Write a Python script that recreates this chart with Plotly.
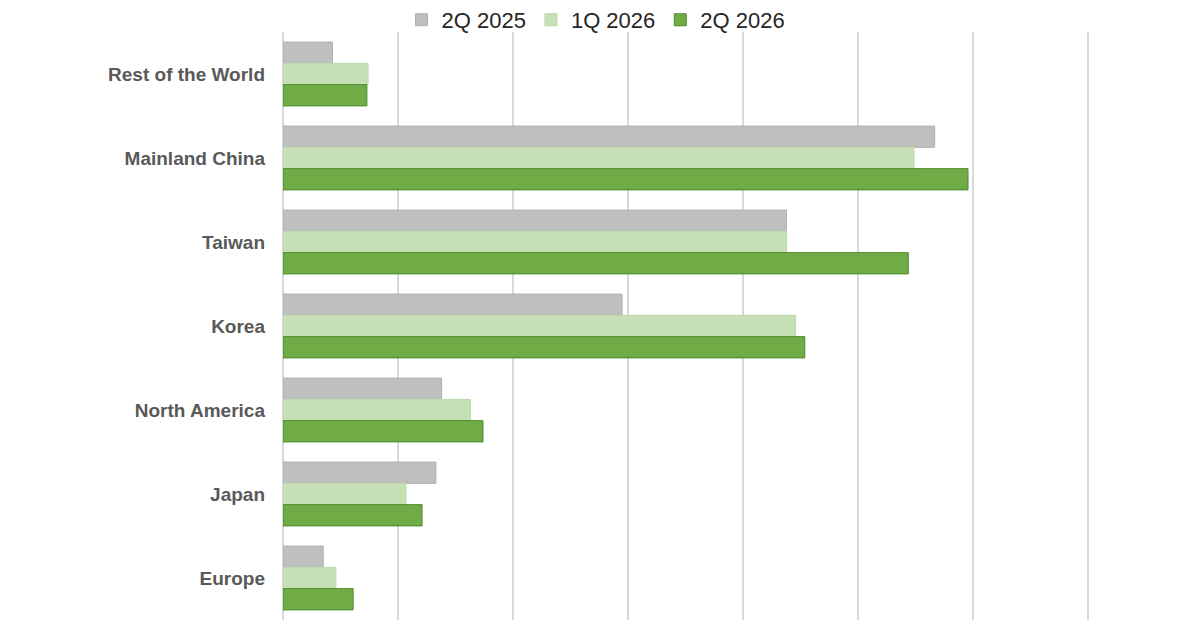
import plotly.graph_objects as go

# regions, top to bottom
regions = ["Rest of the World", "Mainland China", "Taiwan", "Korea",
           "North America", "Japan", "Europe"]

# values (gridline units)
q2_2025 = [0.43, 5.67, 4.38, 2.95, 1.38, 1.33, 0.35]
q1_2026 = [0.74, 5.49, 4.38, 4.46, 1.63, 1.07, 0.46]
q2_2026 = [0.73, 5.96, 5.44, 4.54, 1.74, 1.21, 0.61]

series = [
    ("2Q 2025", q2_2025, "#BFBFBF", "#B0B0B0"),
    ("1Q 2026", q1_2026, "#C5E0B4", "#BBD9A8"),
    ("2Q 2026", q2_2026, "#6FAC46", "#4F8A2C"),
]

fig = go.Figure()
for name, vals, color, edge in series:
    fig.add_trace(go.Bar(y=regions, x=vals, name=name, orientation="h",
                         marker=dict(color=color, line=dict(color=edge, width=1))))

# page has an 8px body margin, so margins are shifted by that
fig.update_layout(
    width=1200, height=629,
    barmode="group", bargap=0.24, bargroupgap=0,
    plot_bgcolor="white", paper_bgcolor="white",
    margin=dict(l=275, r=117, t=24, b=17, autoexpand=False),
    font=dict(family="Liberation Sans, Arial, sans-serif", color="#404040"),
    legend=dict(orientation="h", xref="container", x=0.49, xanchor="center",
                yref="container", y=0.981, yanchor="middle",
                bgcolor="rgba(0,0,0,0)",
                font=dict(size=22, color="#262626"), traceorder="normal",
                itemwidth=30),
    xaxis=dict(range=[0, 7.03], dtick=1, showticklabels=False, showgrid=True,
               gridcolor="#D9D9D9", gridwidth=2, zeroline=True,
               zerolinecolor="#D9D9D9", zerolinewidth=2, showline=False),
    yaxis=dict(autorange="reversed", showgrid=False, ticks="", automargin=False,
               ticklabelstandoff=17,
               tickfont=dict(size=19, color="#595959", family="Liberation Sans, Arial, sans-serif",
                             weight="bold")),
)

fig.write_html("out.html")
